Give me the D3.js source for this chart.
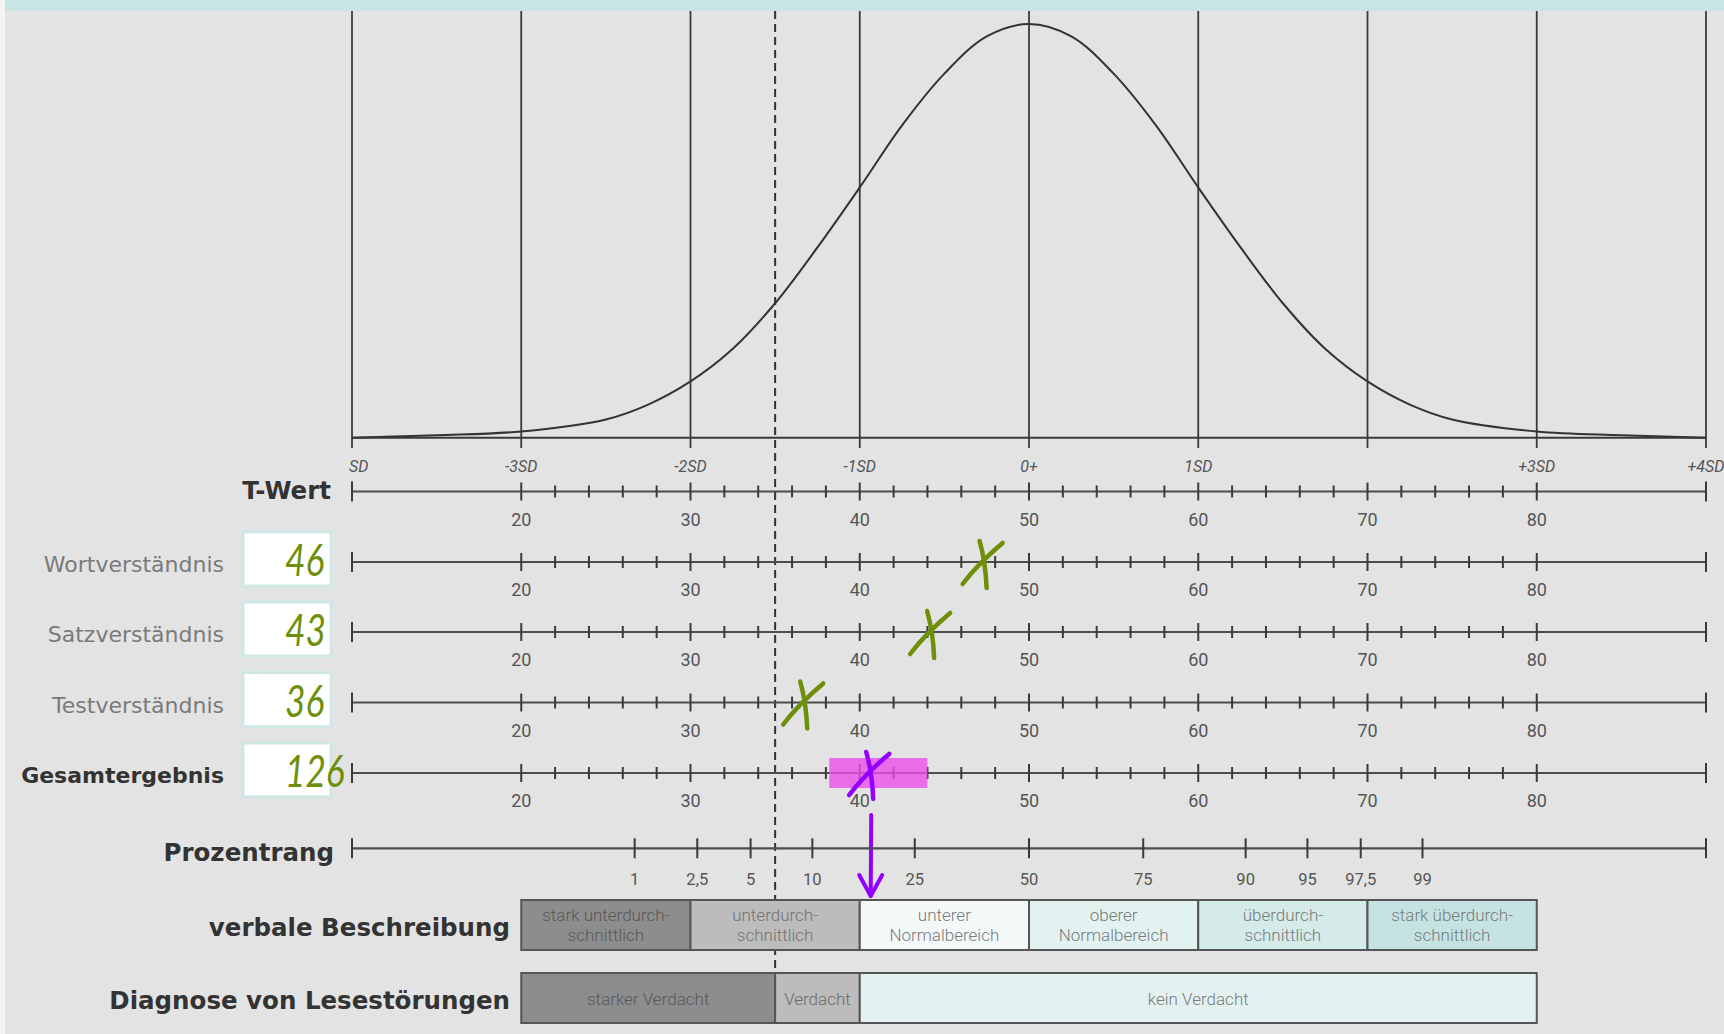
<!DOCTYPE html>
<html>
<head>
<meta charset="UTF-8">
<style>
body { margin:0; background:#fff; }
svg { display:block; }
.lbl-bold { font-family:"DejaVu Sans", sans-serif; font-weight:bold; fill:#333; }
.lbl-row { font-family:"DejaVu Sans", sans-serif; fill:#7a7a7a; }
.num { font-family:Roboto, sans-serif; fill:#555; }
.sd { font-family:Roboto, sans-serif; font-style:italic; fill:#555; font-size:16px; }
.box-text { font-family:Roboto, sans-serif; font-weight:300; font-size:17px; }
</style>
</head>
<body>
<svg width="1724" height="1034"></svg>
<script src="https://cdn.jsdelivr.net/npm/d3@7"></script>
<script>
// SD grid of the bell curve
var sdPos = [10, 20, 30, 40, 50, 60, 70, 80, 90];
var sdLabels = ["SD", "-3SD", "-2SD", "-1SD", "0+", "1SD", "", "+3SD", "+4SD"];

// T-Wert ticks
var tMajor = [20, 30, 40, 50, 60, 70, 80];
var tMinor = [22, 24, 26, 28, 32, 34, 36, 38, 42, 44, 46, 48, 52, 54, 56, 58, 62, 64, 66, 68, 72, 74, 76, 78];

// curve height (peak = 1)
var curveT = [10, 15, 20, 25, 27.5, 30, 32.5, 35, 37.5, 40, 42.5, 45, 47.5, 50, 52.5, 55, 57.5, 60, 62.5, 65, 67.5, 70, 72.5, 75, 80, 85, 90];
var curveH = [0, 0.006, 0.015, 0.044, 0.08, 0.136, 0.215, 0.325, 0.46, 0.605, 0.755, 0.88, 0.97, 1, 0.97, 0.88, 0.755, 0.605, 0.46, 0.325, 0.215, 0.136, 0.08, 0.044, 0.015, 0.006, 0];

// result rows
var rowNames = ["Wortverständnis", "Satzverständnis", "Testverständnis", "Gesamtergebnis"];
var rowValues = ["46", "43", "36", "126"];
var crossT = [47.2, 44.1, 36.6, 40.5];
var highlightT = [38.2, 44];

// Prozentrang ticks (position on the T scale)
var prPos = [26.7, 30.4, 33.55, 37.2, 43.25, 50, 56.75, 62.8, 66.45, 69.6, 73.25];
var prLabels = ["1", "2,5", "5", "10", "25", "50", "75", "90", "95", "97,5", "99"];

// verbale Beschreibung
var verbalBounds = [20, 30, 40, 50, 60, 70, 80];
var verbalLabels = [["stark unterdurch-", "schnittlich"], ["unterdurch-", "schnittlich"], ["unterer", "Normalbereich"],
                    ["oberer", "Normalbereich"], ["überdurch-", "schnittlich"], ["stark überdurch-", "schnittlich"]];

// Diagnose von Lesestörungen
var diagBounds = [20, 35, 40, 80];
var diagLabels = ["starker Verdacht", "Verdacht", "kein Verdacht"];
var cutoffT = 35;

var verbalFill = ["#8d8d8d", "#bcbcbc", "#f3f9f8", "#e2f2f0", "#d4ebe9", "#c5e4e1"];
var verbalInk = ["#585858", "#737373", "#7a7a7a", "#7a7a7a", "#7a7a7a", "#7a7a7a"];
var diagFill = ["#8d8d8d", "#bcbcbc", "#e3f2f0"];
var diagInk = ["#585858", "#6a6a6a", "#7a7a7a"];

var svg = d3.select("svg");

var x = d3.scaleLinear().domain([10, 90]).range([352, 1706]);
var yc = d3.scaleLinear().domain([0, 1]).range([437.7, 24]);

var tY = 491.5;
var rowY = [562, 632, 702.5, 773];
var prY = 848.3;

// background
svg.append("rect").attr("width", 1724).attr("height", 1034).attr("fill", "#f4f4f4");
svg.append("rect").attr("x", 5).attr("width", 1719).attr("height", 1034).attr("fill", "#e3e3e3");
svg.append("rect").attr("x", 5).attr("width", 1719).attr("height", 11).attr("fill", "#c7e6e3");

// bell curve frame
svg.selectAll(".vline").data(sdPos).enter().append("line")
    .attr("x1", d => x(d)).attr("x2", d => x(d))
    .attr("y1", 11).attr("y2", 448)
    .attr("stroke", "#3a3a3a").attr("stroke-width", 1.8);

svg.append("line")
    .attr("x1", x(10)).attr("x2", x(90)).attr("y1", yc(0)).attr("y2", yc(0))
    .attr("stroke", "#3a3a3a").attr("stroke-width", 2);

var line = d3.line()
    .x(d => x(d[0]))
    .y(d => yc(d[1]))
    .curve(d3.curveCatmullRom.alpha(0.5));

svg.append("path")
    .datum(curveT.map((t, i) => [t, curveH[i]]))
    .attr("d", line)
    .attr("fill", "none").attr("stroke", "#333").attr("stroke-width", 2);

svg.selectAll(".sdl").data(sdPos).enter().append("text")
    .attr("class", "sd")
    .attr("x", (d, i) => i == 0 ? x(d) - 3 : x(d))
    .attr("y", 472)
    .attr("text-anchor", (d, i) => i == 0 ? "start" : "middle")
    .text((d, i) => sdLabels[i]);

// cut-off line
svg.append("line")
    .attr("x1", x(cutoffT)).attr("x2", x(cutoffT))
    .attr("y1", 11).attr("y2", 973)
    .attr("stroke", "#333").attr("stroke-width", 2)
    .attr("stroke-dasharray", "8,5");

// T axes
function tAxis(y) {
  var g = svg.append("g");
  g.append("line").attr("x1", x(10)).attr("x2", x(90)).attr("y1", y).attr("y2", y)
      .attr("stroke", "#4d4d4d").attr("stroke-width", 2.2);
  g.selectAll(".e").data([10, 90]).enter().append("line")
      .attr("x1", d => x(d)).attr("x2", d => x(d)).attr("y1", y - 10).attr("y2", y + 10)
      .attr("stroke", "#3a3a3a").attr("stroke-width", 2);
  g.selectAll(".M").data(tMajor).enter().append("line")
      .attr("x1", d => x(d)).attr("x2", d => x(d)).attr("y1", y - 9).attr("y2", y + 9)
      .attr("stroke", "#3a3a3a").attr("stroke-width", 2);
  g.selectAll(".m").data(tMinor).enter().append("line")
      .attr("x1", d => x(d)).attr("x2", d => x(d)).attr("y1", y - 6).attr("y2", y + 6)
      .attr("stroke", "#3a3a3a").attr("stroke-width", 2);
  g.selectAll("text").data(tMajor).enter().append("text")
      .attr("class", "num").attr("font-size", 18)
      .attr("x", d => x(d)).attr("y", y + 34).attr("text-anchor", "middle")
      .text(d => d);
  return g;
}

tAxis(tY);
rowY.forEach(y => tAxis(y));

svg.append("text").attr("class", "lbl-bold").attr("font-size", 24.5)
    .attr("x", 331).attr("y", 499).attr("text-anchor", "end").text("T-Wert");

// row labels and value boxes
rowY.forEach(function(y, i) {
  svg.append("text")
      .attr("class", i == 3 ? "lbl-bold" : "lbl-row")
      .attr("font-size", 22)
      .attr("x", 224).attr("y", y + 10).attr("text-anchor", "end")
      .text(rowNames[i]);
  svg.append("rect")
      .attr("x", 243).attr("y", y - 30).attr("width", 88).attr("height", 54)
      .attr("fill", "#fff").attr("stroke", "#cfe8e5").attr("stroke-width", 3);
  svg.append("text")
      .attr("transform", "translate(285," + (y + 14) + ") scale(0.8,1)")
      .attr("font-family", "Lato, sans-serif").attr("font-style", "italic")
      .attr("font-size", 44).attr("fill", "#6d8f0a")
      .text(rowValues[i]);
});

// highlight on Gesamtergebnis
svg.append("rect")
    .attr("x", x(highlightT[0])).attr("width", x(highlightT[1]) - x(highlightT[0]))
    .attr("y", rowY[3] - 15).attr("height", 30)
    .attr("fill", "#ea4fea").attr("opacity", 0.8);

// hand drawn crosses
crossT.forEach(function(t, i) {
  var cx = x(t), cy = rowY[i];
  var col = i == 3 ? "#9400ff" : "#6d8f0a";
  var g = svg.append("g").attr("transform", "translate(" + cx + "," + cy + ")")
      .attr("fill", "none").attr("stroke", col).attr("stroke-width", 4.5).attr("stroke-linecap", "round");
  g.append("path").attr("d", "M-19,22 Q-4,2 21,-19");
  g.append("path").attr("d", "M-2,-21 Q4,0 5,26");
});

// arrow to verbale Beschreibung
var ax = x(crossT[3]) + 3;
svg.append("path")
    .attr("d", "M" + ax + ",815 L" + (ax - 0.5) + ",896")
    .attr("fill", "none").attr("stroke", "#9400ff").attr("stroke-width", 4).attr("stroke-linecap", "round");
svg.append("path")
    .attr("d", "M" + (ax - 12) + ",875 L" + (ax - 0.5) + ",896 L" + (ax + 11) + ",875")
    .attr("fill", "none").attr("stroke", "#9400ff").attr("stroke-width", 4)
    .attr("stroke-linecap", "round").attr("stroke-linejoin", "round");

// Prozentrang axis
svg.append("line").attr("x1", x(10)).attr("x2", x(90)).attr("y1", prY).attr("y2", prY)
    .attr("stroke", "#4d4d4d").attr("stroke-width", 2.2);
svg.selectAll(".pe").data([10, 90].concat(prPos)).enter().append("line")
    .attr("x1", d => x(d)).attr("x2", d => x(d)).attr("y1", prY - 10).attr("y2", prY + 10)
    .attr("stroke", "#3a3a3a").attr("stroke-width", 2);
svg.selectAll(".pl").data(prPos).enter().append("text")
    .attr("class", "num").attr("font-size", 16.5)
    .attr("x", d => x(d)).attr("y", 885).attr("text-anchor", "middle")
    .text((d, i) => prLabels[i]);
svg.append("text").attr("class", "lbl-bold").attr("font-size", 24.5)
    .attr("x", 334).attr("y", 861).attr("text-anchor", "end").text("Prozentrang");

// verbale Beschreibung boxes
var vg = svg.append("g");
verbalLabels.forEach(function(lab, i) {
  var x0 = x(verbalBounds[i]), x1 = x(verbalBounds[i + 1]);
  vg.append("rect").attr("x", x0).attr("y", 900).attr("width", x1 - x0).attr("height", 50)
      .attr("fill", verbalFill[i]).attr("stroke", "#555").attr("stroke-width", 2);
  lab.forEach(function(s, j) {
    vg.append("text").attr("class", "box-text")
        .attr("x", (x0 + x1) / 2).attr("y", 915 + j * 20.5).attr("dy", "0.35em")
        .attr("text-anchor", "middle").attr("fill", verbalInk[i])
        .text(s);
  });
});
svg.append("text").attr("class", "lbl-bold").attr("font-size", 24.5)
    .attr("x", 510).attr("y", 936).attr("text-anchor", "end").text("verbale Beschreibung");

// Diagnose boxes
var dg = svg.append("g");
diagLabels.forEach(function(lab, i) {
  var x0 = x(diagBounds[i]), x1 = x(diagBounds[i + 1]);
  dg.append("rect").attr("x", x0).attr("y", 973).attr("width", x1 - x0).attr("height", 50)
      .attr("fill", diagFill[i]).attr("stroke", "#555").attr("stroke-width", 2);
  dg.append("text").attr("class", "box-text")
      .attr("x", (x0 + x1) / 2).attr("y", 999).attr("dy", "0.35em")
      .attr("text-anchor", "middle").attr("fill", diagInk[i])
      .text(lab);
});
svg.append("text").attr("class", "lbl-bold").attr("font-size", 24.5)
    .attr("x", 510).attr("y", 1009).attr("text-anchor", "end").text("Diagnose von Lesestörungen");
</script>
</body>
</html>
